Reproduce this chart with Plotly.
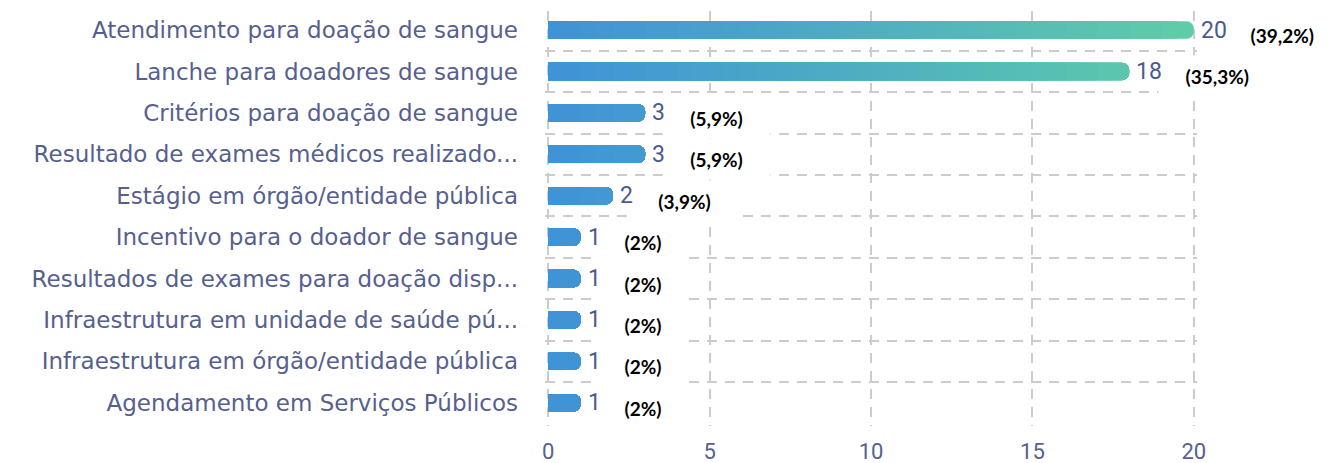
import plotly.graph_objects as go

categories = [
    'Atendimento para doação de sangue',
    'Lanche para doadores de sangue',
    'Critérios para doação de sangue',
    'Resultado de exames médicos realizado...',
    'Estágio em órgão/entidade pública',
    'Incentivo para o doador de sangue',
    'Resultados de exames para doação disp...',
    'Infraestrutura em unidade de saúde pú...',
    'Infraestrutura em órgão/entidade pública',
    'Agendamento em Serviços Públicos',
]
values = [20, 18, 3, 3, 2, 1, 1, 1, 1, 1]
x_ticks = [0, 5, 10, 15, 20]

total = sum(values)
pct_labels = ['(' + f'{v / total * 100:.1f}'.rstrip('0').rstrip('.').replace('.', ',') + '%)'
              for v in values]

# gradient along the x axis, from blue at 0 to green at 20
c_start = (63, 146, 216)
c_end = (95, 205, 168)
x_max = 20
step = 0.5
n_steps = int(x_max / step)


def grad_color(t):
    r, g, b = [round(a + (b - a) * t) for a, b in zip(c_start, c_end)]
    return f'rgb({r},{g},{b})'


fig = go.Figure()

# overlaid bars, longest first, so each band shows its own colour
for k in range(n_steps - 1, -1, -1):
    limit = (k + 1) * step
    fig.add_trace(go.Bar(
        x=[min(v, limit) for v in values],
        y=categories,
        orientation='h',
        marker=dict(color=grad_color((k + 0.5) * step / x_max), line=dict(width=0),
                    cornerradius=7),
        hoverinfo='skip',
        showlegend=False,
    ))

# percentage boxes (white background hides the grid behind them)
for cat, v, p in zip(categories, values, pct_labels):
    tw = 9.5 * len(p)
    off = 30 + 12 * len(str(v))
    fig.add_annotation(
        x=v, y=cat, text=p, showarrow=False,
        xanchor='left', xshift=off - 25, yshift=-5,
        width=tw + 50, height=40, align='center',
        bgcolor='white', borderpad=0,
        font=dict(family='Lato', size=19, color='black', weight='bold'),
    )

# value labels
for cat, v in zip(categories, values):
    fig.add_annotation(
        x=v, y=cat, text=str(v), showarrow=False,
        xanchor='left', xshift=5,
        font=dict(family='Roboto', size=23, color='#4b5a8d'),
    )

grid = dict(gridcolor='#cccccc', gridwidth=2, griddash='10px,8px')

# the page body adds an 8px offset, so the figure is a bit smaller than the window
fig.update_layout(
    barmode='overlay',
    bargap=0.58,
    width=1322, height=455,
    margin=dict(l=537, r=133, t=3, b=37, autoexpand=False),
    plot_bgcolor='white',
    paper_bgcolor='white',
    font=dict(family='Roboto', size=23, color='#56608f'),
    xaxis=dict(range=[-0.1, 20.1], tickvals=x_ticks, showgrid=True, zeroline=False,
               showline=False, ticks='', ticklabelstandoff=10, automargin=False,
               tickfont=dict(family='Roboto', size=22, color='#56608f'), **grid),
    yaxis=dict(range=[9.56, -0.46], categoryorder='array', categoryarray=categories,
               tickson='boundaries', showgrid=True, zeroline=False, showline=False,
               ticks='', ticklabelstandoff=26, automargin=False,
               tickfont=dict(family='DejaVu Sans', size=23, color='#56608f'), **grid),
)

fig.write_html('out.html')
